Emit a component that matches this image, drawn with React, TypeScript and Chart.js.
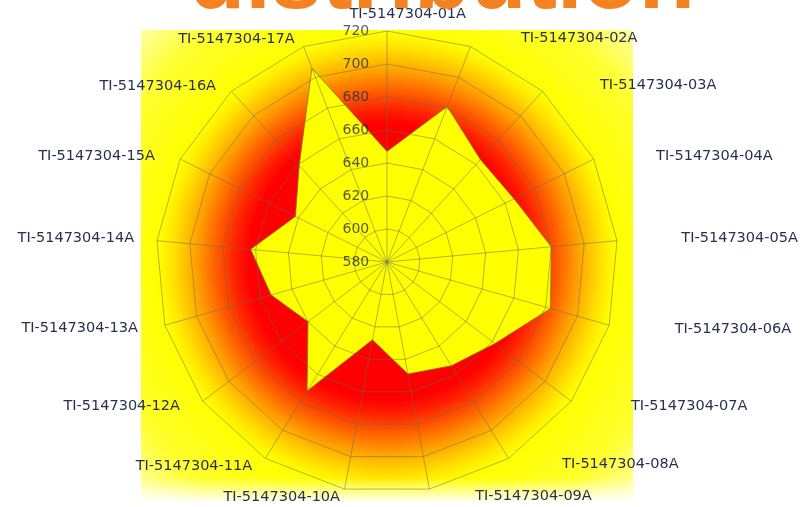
import { useEffect, useRef } from 'react';
import { Chart, registerables } from 'chart.js';

Chart.register(...registerables);

// ---- data ----
const categories = [
  'TI-5147304-01A', 'TI-5147304-02A', 'TI-5147304-03A', 'TI-5147304-04A',
  'TI-5147304-05A', 'TI-5147304-06A', 'TI-5147304-07A', 'TI-5147304-08A',
  'TI-5147304-09A', 'TI-5147304-10A', 'TI-5147304-11A', 'TI-5147304-12A',
  'TI-5147304-13A', 'TI-5147304-14A', 'TI-5147304-15A', 'TI-5147304-16A',
  'TI-5147304-17A',
];
const measured = [647, 681, 664, 666, 680, 683, 662, 654, 649, 628, 672, 640, 653, 663, 642, 659, 706];
const tickValues = [580, 600, 620, 640, 660, 680, 700, 720];
const titleText = 'distribution';

// ---- label placement (radial padding and horizontal nudge, px) ----
const labelPad = [-2.4, -10.5, -13.9, -22.8, -75, -28.2, -16.2, -13.6, -11.8, -10.4, -11.2, -16.2, -30, -75, -22.8, -14.6, -11.1];
const labelGap = [41, 49.7, 58, 72.7, 127.7, 81.3, 63.6, 55.3, 45.9, -4.6, -14, -25.6, -44.1, -89.7, -34.7, -19.5, -9];
const tickGap = 61;

const FAMILY = "'DejaVu Sans', sans-serif";
const LABEL_FONT = { family: FAMILY, size: 14.5 };
const TICK_FONT = { family: FAMILY, size: 14 };
const GRID = 'rgba(105,105,85,0.5)';

function spaceWidth(size: number): number {
  const c = document.createElement('canvas').getContext('2d');
  if (!c) return size * 0.318;
  c.font = `${size}px ${FAMILY}`;
  return c.measureText(' ').width || size * 0.318;
}

function withGap(text: string, gap: number, sw: number): string {
  const n = Math.max(0, Math.round(Math.abs(gap) / sw));
  const s = ' '.repeat(n);
  return gap >= 0 ? s + text : text + s;
}

// warm radial backdrop behind the web
const heatBackdrop = {
  id: 'heatBackdrop',
  beforeDraw(chart: any) {
    const s = chart.scales.r;
    if (!s) return;
    const { ctx } = chart;
    const cx = s.xCenter;
    const cy = s.yCenter;
    const D = s.drawingArea;
    const x0 = cx - 1.065 * D;
    const w = 2.13 * D;
    const y0 = cy - D - 1;
    const h = 2 * D + 9;
    ctx.save();
    const g = ctx.createRadialGradient(cx, cy, 0, cx, cy, D * 1.5);
    g.addColorStop(0, '#ff0000');
    g.addColorStop(0.4, '#ff0000');
    g.addColorStop(0.44, '#ff2200');
    g.addColorStop(0.49, '#ff5a00');
    g.addColorStop(0.54, '#ff9400');
    g.addColorStop(0.58, '#ffbe00');
    g.addColorStop(0.62, '#ffe400');
    g.addColorStop(0.66, '#ffff00');
    g.addColorStop(0.84, '#ffff30');
    g.addColorStop(1, '#ffffb8');
    ctx.fillStyle = g;
    ctx.fillRect(x0, y0, w, h);
    const f = ctx.createLinearGradient(0, cy + D - 15, 0, y0 + h);
    f.addColorStop(0, 'rgba(255,255,255,0)');
    f.addColorStop(1, 'rgba(255,255,255,0.9)');
    ctx.fillStyle = f;
    ctx.fillRect(x0, cy + D - 15, w, y0 + h - (cy + D - 15));
    ctx.restore();
  },
};

// large heading along the top edge
const heading = {
  id: 'heading',
  afterDraw(chart: any) {
    const s = chart.scales.r;
    if (!s) return;
    const { ctx } = chart;
    ctx.save();
    ctx.font = 'bold 92px "Liberation Sans", Arial, sans-serif';
    ctx.fillStyle = '#f58220';
    ctx.textAlign = 'center';
    ctx.textBaseline = 'alphabetic';
    ctx.fillText(titleText, s.xCenter + 55, 8);
    ctx.restore();
  },
};

export default function App() {
  const ref = useRef<HTMLCanvasElement | null>(null);

  useEffect(() => {
    if (!ref.current) return;
    const labelSpace = spaceWidth(LABEL_FONT.size);
    const tickSpace = spaceWidth(TICK_FONT.size);

    const chart = new Chart(ref.current, {
      type: 'radar',
      data: {
        labels: categories,
        datasets: [
          {
            data: measured,
            backgroundColor: '#ffff00',
            borderColor: 'rgba(125,115,0,0.75)',
            borderWidth: 1,
            pointRadius: 0,
            pointHoverRadius: 0,
            fill: true,
          },
        ],
      },
      options: {
        responsive: false,
        animation: false,
        devicePixelRatio: 1,
        layout: { padding: 0 },
        plugins: {
          legend: { display: false },
          tooltip: { enabled: false },
          title: { display: false },
        },
        scales: {
          r: {
            min: tickValues[0],
            max: tickValues[tickValues.length - 1],
            afterBuildTicks: (scale: any) => {
              // leading duplicate keeps the centre value labelled
              scale.ticks = [{ value: tickValues[0] }, ...tickValues.map((v) => ({ value: v }))];
            },
            grid: { color: GRID, lineWidth: 1, z: 1 },
            angleLines: { color: GRID, lineWidth: 1 },
            ticks: {
              z: 1,
              stepSize: 20,
              font: TICK_FONT,
              color: 'rgba(40,50,72,0.8)',
              showLabelBackdrop: false,
              backdropPadding: 3,
              callback: (v: any) => withGap(String(v), -tickGap, tickSpace),
            },
            pointLabels: {
              font: LABEL_FONT,
              color: '#27314f',
              padding: (ctx: any) => labelPad[ctx.index] ?? 0,
              callback: (label: string, i: number) => withGap(label, labelGap[i] ?? 0, labelSpace),
            },
          },
        },
      } as any,
      plugins: [heatBackdrop, heading],
    });

    return () => chart.destroy();
  }, []);

  return (
    <div
      style={{
        position: 'absolute',
        left: 0,
        top: 0,
        width: 803,
        height: 507,
        overflow: 'hidden',
        background: '#ffffff',
      }}
    >
      <canvas ref={ref} width={1401} height={513} style={{ position: 'absolute', left: -313, top: 0 }} />
    </div>
  );
}
